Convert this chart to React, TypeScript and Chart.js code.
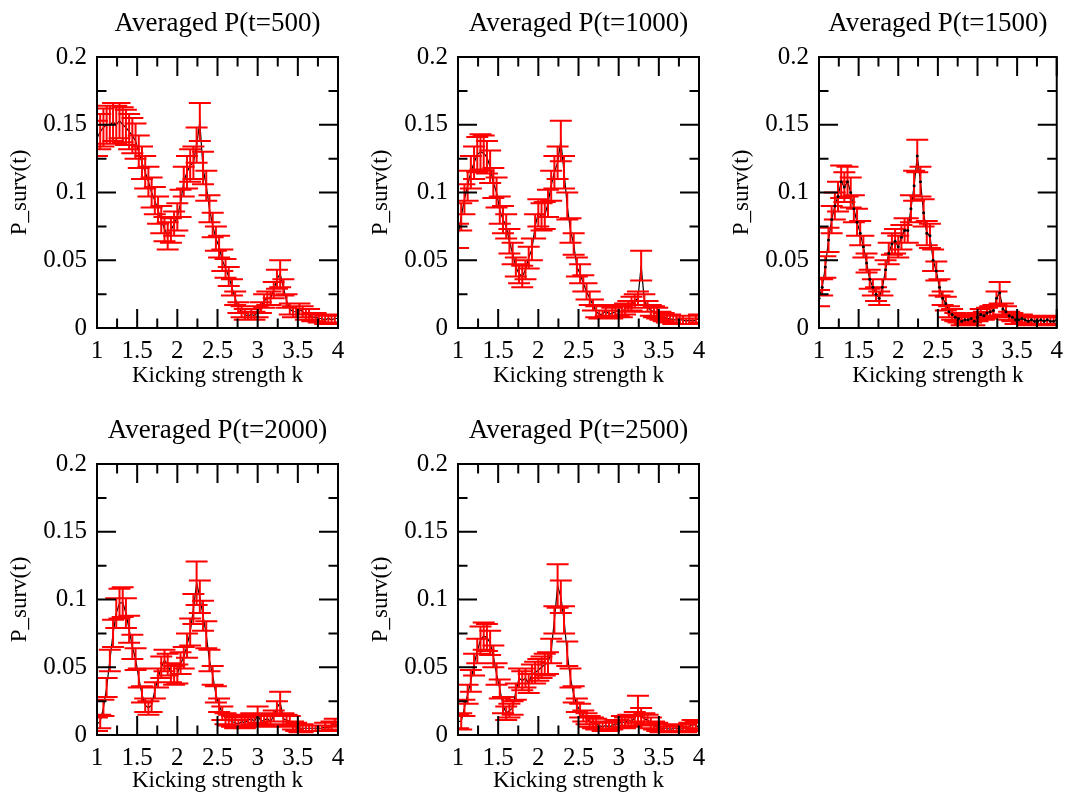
import React, { useEffect, useRef } from "react";
import { Chart, registerables } from "chart.js";

Chart.register(...registerables);

// ---------------- data ----------------
const kValues = [
  1.00, 1.04, 1.08, 1.12, 1.16, 1.20, 1.24, 1.28, 1.32, 1.36,
  1.40, 1.44, 1.48, 1.52, 1.56, 1.60, 1.64, 1.68, 1.72, 1.76,
  1.80, 1.84, 1.88, 1.92, 1.96, 2.00, 2.04, 2.08, 2.12, 2.16,
  2.20, 2.24, 2.28, 2.32, 2.36, 2.40, 2.44, 2.48, 2.52, 2.56,
  2.60, 2.64, 2.68, 2.72, 2.76, 2.80, 2.84, 2.88, 2.92, 2.96,
  3.00, 3.04, 3.08, 3.12, 3.16, 3.20, 3.24, 3.28, 3.32, 3.36,
  3.40, 3.44, 3.48, 3.52, 3.56, 3.60, 3.64, 3.68, 3.72, 3.76,
  3.80, 3.84, 3.88, 3.92, 3.96, 4.00,
];

const survT500 = [
  0.140, 0.145, 0.148, 0.150, 0.150, 0.152, 0.150, 0.153, 0.150, 0.148,
  0.145, 0.142, 0.138, 0.130, 0.122, 0.115, 0.108, 0.100, 0.094, 0.087,
  0.080, 0.073, 0.068, 0.072, 0.077, 0.082, 0.092, 0.108, 0.115, 0.120,
  0.122, 0.135, 0.152, 0.118, 0.105, 0.088, 0.076, 0.066, 0.060, 0.050,
  0.044, 0.038, 0.030, 0.022, 0.015, 0.012, 0.010, 0.009, 0.010, 0.009,
  0.012, 0.015, 0.020, 0.022, 0.022, 0.028, 0.036, 0.040, 0.030, 0.020,
  0.014, 0.012, 0.012, 0.014, 0.012, 0.010, 0.010, 0.008, 0.008, 0.007,
  0.007, 0.006, 0.007, 0.006, 0.007, 0.007,
];
const errT500 = [
  0.013, 0.013, 0.014, 0.014, 0.014, 0.014, 0.014, 0.013, 0.013, 0.013,
  0.013, 0.013, 0.013, 0.012, 0.012, 0.012, 0.011, 0.011, 0.010, 0.010,
  0.010, 0.009, 0.010, 0.009, 0.009, 0.010, 0.010, 0.011, 0.012, 0.012,
  0.012, 0.013, 0.014, 0.012, 0.011, 0.010, 0.009, 0.009, 0.008, 0.008,
  0.007, 0.007, 0.006, 0.005, 0.004, 0.004, 0.004, 0.003, 0.004, 0.003,
  0.004, 0.004, 0.005, 0.005, 0.005, 0.006, 0.007, 0.010, 0.006, 0.005,
  0.004, 0.004, 0.004, 0.004, 0.004, 0.004, 0.004, 0.003, 0.003, 0.003,
  0.003, 0.003, 0.003, 0.003, 0.003, 0.003,
];

const survT1000 = [
  0.068, 0.082, 0.095, 0.105, 0.115, 0.122, 0.128, 0.130, 0.129, 0.126,
  0.119, 0.107, 0.100, 0.087, 0.080, 0.075, 0.064, 0.055, 0.045, 0.040,
  0.038, 0.043, 0.052, 0.058, 0.075, 0.085, 0.082, 0.083, 0.092, 0.105,
  0.115, 0.122, 0.138, 0.115, 0.090, 0.072, 0.062, 0.045, 0.040, 0.033,
  0.027, 0.022, 0.017, 0.012, 0.010, 0.010, 0.013, 0.010, 0.011, 0.012,
  0.013, 0.012, 0.014, 0.016, 0.018, 0.020, 0.022, 0.046, 0.020, 0.016,
  0.013, 0.012, 0.011, 0.009, 0.008, 0.007, 0.007, 0.006, 0.006, 0.006,
  0.006, 0.005, 0.006, 0.005, 0.006, 0.007,
];
const errT1000 = [
  0.009, 0.010, 0.011, 0.011, 0.012, 0.012, 0.013, 0.013, 0.013, 0.012,
  0.012, 0.011, 0.011, 0.010, 0.010, 0.009, 0.009, 0.008, 0.007, 0.007,
  0.008, 0.007, 0.008, 0.008, 0.009, 0.010, 0.010, 0.010, 0.010, 0.011,
  0.012, 0.012, 0.015, 0.012, 0.010, 0.009, 0.008, 0.007, 0.007, 0.006,
  0.006, 0.005, 0.004, 0.004, 0.003, 0.003, 0.004, 0.003, 0.004, 0.004,
  0.004, 0.004, 0.004, 0.004, 0.005, 0.005, 0.005, 0.011, 0.005, 0.004,
  0.004, 0.004, 0.004, 0.003, 0.003, 0.003, 0.003, 0.003, 0.003, 0.003,
  0.003, 0.002, 0.003, 0.002, 0.003, 0.003,
];

const survT1500 = [
  0.022, 0.030, 0.045, 0.065, 0.080, 0.090, 0.097, 0.108, 0.104, 0.108,
  0.100, 0.088, 0.078, 0.070, 0.060, 0.048, 0.036, 0.030, 0.025, 0.022,
  0.030, 0.043, 0.055, 0.062, 0.064, 0.060, 0.067, 0.072, 0.072, 0.088,
  0.105, 0.127, 0.108, 0.085, 0.070, 0.068, 0.050, 0.042, 0.030, 0.022,
  0.018, 0.012, 0.010, 0.008, 0.007, 0.005, 0.006, 0.006, 0.007, 0.005,
  0.008, 0.010, 0.009, 0.011, 0.012, 0.013, 0.022, 0.026, 0.014, 0.012,
  0.009, 0.008, 0.006, 0.006, 0.007, 0.006, 0.005, 0.006, 0.005, 0.005,
  0.006, 0.005, 0.006, 0.005, 0.005, 0.006,
];
const errT1500 = [
  0.006, 0.006, 0.008, 0.009, 0.010, 0.010, 0.011, 0.012, 0.011, 0.011,
  0.011, 0.010, 0.010, 0.009, 0.008, 0.007, 0.007, 0.006, 0.005, 0.005,
  0.006, 0.007, 0.008, 0.008, 0.009, 0.008, 0.009, 0.009, 0.009, 0.010,
  0.011, 0.012, 0.011, 0.010, 0.009, 0.009, 0.008, 0.007, 0.006, 0.005,
  0.005, 0.004, 0.004, 0.003, 0.003, 0.003, 0.003, 0.003, 0.003, 0.003,
  0.003, 0.004, 0.003, 0.004, 0.004, 0.004, 0.005, 0.008, 0.004, 0.004,
  0.003, 0.003, 0.003, 0.003, 0.003, 0.003, 0.003, 0.003, 0.003, 0.003,
  0.003, 0.003, 0.003, 0.003, 0.003, 0.003,
];

const survT2000 = [
  0.008, 0.010, 0.020, 0.035, 0.055, 0.075, 0.090, 0.097, 0.098, 0.090,
  0.078, 0.065, 0.056, 0.042, 0.030, 0.022, 0.020, 0.022, 0.033, 0.042,
  0.050, 0.055, 0.052, 0.046, 0.044, 0.045, 0.053, 0.057, 0.066, 0.076,
  0.093, 0.112, 0.102, 0.088, 0.074, 0.055, 0.044, 0.030, 0.022, 0.016,
  0.012, 0.011, 0.010, 0.009, 0.008, 0.010, 0.009, 0.011, 0.012, 0.010,
  0.015, 0.010, 0.011, 0.012, 0.010, 0.014, 0.020, 0.024, 0.012, 0.011,
  0.010, 0.007, 0.006, 0.005, 0.005, 0.005, 0.005, 0.005, 0.005, 0.005,
  0.005, 0.006, 0.005, 0.007, 0.009, 0.006,
];
const errT2000 = [
  0.005, 0.005, 0.006, 0.007, 0.008, 0.010, 0.011, 0.011, 0.011, 0.011,
  0.010, 0.009, 0.008, 0.007, 0.006, 0.005, 0.005, 0.005, 0.006, 0.007,
  0.008, 0.008, 0.008, 0.007, 0.007, 0.007, 0.008, 0.008, 0.009, 0.010,
  0.011, 0.016, 0.012, 0.011, 0.010, 0.008, 0.007, 0.006, 0.005, 0.005,
  0.004, 0.004, 0.004, 0.004, 0.003, 0.004, 0.004, 0.004, 0.004, 0.004,
  0.006, 0.004, 0.004, 0.004, 0.004, 0.004, 0.005, 0.008, 0.004, 0.004,
  0.004, 0.003, 0.003, 0.003, 0.003, 0.002, 0.002, 0.002, 0.002, 0.002,
  0.002, 0.003, 0.002, 0.003, 0.003, 0.003,
];

const survT2500 = [
  0.010, 0.010, 0.020, 0.030, 0.040, 0.052, 0.062, 0.070, 0.073, 0.072,
  0.068, 0.058, 0.045, 0.034, 0.022, 0.016, 0.018, 0.020, 0.032, 0.042,
  0.040, 0.042, 0.038, 0.045, 0.046, 0.048, 0.050, 0.052, 0.053, 0.062,
  0.085, 0.110, 0.102, 0.085, 0.060, 0.042, 0.030, 0.022, 0.018, 0.014,
  0.012, 0.010, 0.009, 0.008, 0.007, 0.006, 0.007, 0.006, 0.007, 0.008,
  0.008, 0.010, 0.009, 0.011, 0.010, 0.013, 0.018, 0.015, 0.012, 0.011,
  0.009, 0.007, 0.006, 0.005, 0.005, 0.005, 0.004, 0.005, 0.005, 0.004,
  0.005, 0.005, 0.006, 0.008, 0.007, 0.006,
];
const errT2500 = [
  0.005, 0.006, 0.006, 0.007, 0.008, 0.008, 0.009, 0.010, 0.010, 0.010,
  0.009, 0.008, 0.008, 0.007, 0.006, 0.005, 0.005, 0.005, 0.006, 0.007,
  0.007, 0.007, 0.007, 0.007, 0.008, 0.008, 0.008, 0.008, 0.008, 0.009,
  0.010, 0.016, 0.012, 0.010, 0.009, 0.007, 0.006, 0.005, 0.005, 0.004,
  0.004, 0.004, 0.004, 0.004, 0.003, 0.003, 0.003, 0.003, 0.003, 0.003,
  0.003, 0.004, 0.004, 0.004, 0.004, 0.004, 0.011, 0.005, 0.004, 0.004,
  0.004, 0.003, 0.003, 0.003, 0.003, 0.003, 0.002, 0.002, 0.003, 0.002,
  0.003, 0.003, 0.003, 0.003, 0.003, 0.003,
];

const panelTitles = [
  "Averaged P(t=500)",
  "Averaged P(t=1000)",
  "Averaged P(t=1500)",
  "Averaged P(t=2000)",
  "Averaged P(t=2500)",
];
const xAxisTitle = "Kicking strength k";
const yAxisTitle = "P_surv(t)";

const xMajorTicks = [1, 1.5, 2, 2.5, 3, 3.5, 4];
const xMinorTicks = [1.25, 1.75, 2.25, 2.75, 3.25, 3.75];
const yMajorTicks = [0, 0.05, 0.1, 0.15, 0.2];
const yMinorTicks = [0.025, 0.075, 0.125, 0.175];

const seriesValues = [survT500, survT1000, survT1500, survT2000, survT2500];
const seriesErrors = [errT500, errT1000, errT1500, errT2000, errT2500];
const showMarkers = [false, false, true, false, false];

// ---------------- layout / style ----------------
const SERIF = "'Liberation Serif', 'Times New Roman', Times, serif";

type Layout = {
  left: number; top: number; width: number; height: number;
  yAxisW: number; rightPad: number; xAxisH: number;
  yTitlePad: number; xTitlePad: number;
};

const layouts: Layout[] = [
  { left: 0, top: 0, width: 360, height: 400, yAxisW: 97, rightPad: 22, xAxisH: 72, yTitlePad: 6.5, xTitlePad: 10 },
  { left: 360, top: 0, width: 360, height: 400, yAxisW: 98, rightPad: 21, xAxisH: 72, yTitlePad: 7, xTitlePad: 10 },
  { left: 720, top: 0, width: 351, height: 400, yAxisW: 99, rightPad: 11, xAxisH: 72, yTitlePad: 8, xTitlePad: 10 },
  { left: 0, top: 407, width: 360, height: 391, yAxisW: 97, rightPad: 22, xAxisH: 63, yTitlePad: 6.5, xTitlePad: 3 },
  { left: 360, top: 407, width: 360, height: 391, yAxisW: 98, rightPad: 21, xAxisH: 63, yTitlePad: 7, xTitlePad: 3 },
];

const fmt = (v: number) => String(Number(Number(v).toFixed(3)));

function Panel({ idx }: { idx: number }) {
  const ref = useRef<HTMLCanvasElement | null>(null);
  const L = layouts[idx];

  useEffect(() => {
    const canvas = ref.current;
    if (!canvas) return;
    const vals = seriesValues[idx];
    const errs = seriesErrors[idx];

    const drawErrorBars = (chart: any) => {
      const { ctx, chartArea: a, scales } = chart;
      const xs = scales.x;
      const ys = scales.y;
      ctx.save();
      ctx.beginPath();
      ctx.rect(a.left, a.top, a.right - a.left, a.bottom - a.top);
      ctx.clip();
      ctx.strokeStyle = "#ff0000";
      ctx.lineWidth = 2;
      ctx.beginPath();
      for (let i = 0; i < kValues.length; i++) {
        const x = xs.getPixelForValue(kValues[i]);
        const y1 = ys.getPixelForValue(vals[i] + errs[i]);
        const y2 = ys.getPixelForValue(vals[i] - errs[i]);
        ctx.moveTo(x, y1);
        ctx.lineTo(x, y2);
        ctx.moveTo(x - 11, y1);
        ctx.lineTo(x + 11, y1);
        ctx.moveTo(x - 11, y2);
        ctx.lineTo(x + 11, y2);
      }
      ctx.stroke();
      ctx.restore();
    };

    const decor = {
      id: "xmgraceDecor",
      afterDatasetDraw(chart: any, args: any) {
        // error bars go right after the connecting line (dataset 1),
        // before the marker dataset (dataset 0) is drawn on top
        if (args.index === 1) drawErrorBars(chart);
      },
      afterDatasetsDraw(chart: any) {
        const { ctx, chartArea: a, scales } = chart;
        const xs = scales.x;
        const ys = scales.y;
        ctx.save();
        ctx.strokeStyle = "#000000";
        ctx.lineWidth = 2;
        ctx.beginPath();
        const xTick = (v: number, len: number) => {
          const x = xs.getPixelForValue(v);
          ctx.moveTo(x, a.bottom);
          ctx.lineTo(x, a.bottom - len);
          ctx.moveTo(x, a.top);
          ctx.lineTo(x, a.top + len);
        };
        const yTick = (v: number, len: number) => {
          const y = ys.getPixelForValue(v);
          ctx.moveTo(a.left, y);
          ctx.lineTo(a.left + len, y);
          ctx.moveTo(a.right, y);
          ctx.lineTo(a.right - len, y);
        };
        xMajorTicks.forEach((v) => xTick(v, 19));
        xMinorTicks.forEach((v) => xTick(v, 9.5));
        yMajorTicks.forEach((v) => yTick(v, 19));
        yMinorTicks.forEach((v) => yTick(v, 9.5));
        ctx.stroke();
        ctx.strokeRect(a.left, a.top, a.right - a.left, a.bottom - a.top);
        ctx.restore();
      },
    };

    const points = kValues.map((k, i) => ({ x: k, y: vals[i] }));

    const chart = new Chart(canvas, {
      type: "line",
      data: {
        datasets: [
          {
            // markers (drawn last, on top of the error bars)
            data: points,
            showLine: false,
            borderColor: "#000000",
            backgroundColor: "#000000",
            pointRadius: showMarkers[idx] ? 1.5 : 0,
            pointBorderWidth: 0,
          },
          {
            // connecting line
            data: points,
            borderColor: "#000000",
            borderWidth: 1.2,
            pointRadius: 0,
            tension: 0,
          },
        ],
      },
      options: {
        animation: false,
        responsive: false,
        devicePixelRatio: 1,
        layout: { padding: { left: 0, top: 0, right: L.rightPad, bottom: 0 } },
        plugins: {
          legend: { display: false },
          tooltip: { enabled: false },
          title: {
            display: true,
            text: panelTitles[idx],
            fullSize: false,
            color: "#000000",
            font: { family: SERIF, size: 27, weight: "normal", lineHeight: 1.2 },
            padding: { top: 7.8, bottom: 16.8 },
          },
        },
        scales: {
          x: {
            type: "linear",
            min: 1,
            max: 4,
            grid: { display: false, drawTicks: false },
            border: { display: false },
            afterBuildTicks: (s: any) => {
              s.ticks = xMajorTicks.map((value) => ({ value }));
            },
            afterFit: (s: any) => {
              s.height = L.xAxisH;
            },
            ticks: {
              padding: 8,
              color: "#000000",
              maxRotation: 0,
              autoSkip: false,
              font: { family: SERIF, size: 25, lineHeight: 1.2 },
              callback: (v: any) => fmt(v),
            },
            title: {
              display: true,
              text: xAxisTitle,
              color: "#000000",
              font: { family: SERIF, size: 23, lineHeight: 1.2 },
              padding: { top: 0, bottom: L.xTitlePad },
            },
          },
          y: {
            type: "linear",
            min: 0,
            max: 0.2,
            grid: { display: false, drawTicks: false },
            border: { display: false },
            afterBuildTicks: (s: any) => {
              s.ticks = yMajorTicks.map((value) => ({ value }));
            },
            afterFit: (s: any) => {
              s.width = L.yAxisW;
            },
            ticks: {
              padding: 10,
              color: "#000000",
              autoSkip: false,
              font: { family: SERIF, size: 25, lineHeight: 1.2 },
              callback: (v: any) => fmt(v),
            },
            title: {
              display: true,
              text: yAxisTitle,
              color: "#000000",
              font: { family: SERIF, size: 23, lineHeight: 1.2 },
              padding: { top: L.yTitlePad, bottom: 0 },
            },
          },
        },
      },
      plugins: [decor],
    } as any);

    return () => {
      chart.destroy();
    };
  }, [idx]);

  return (
    <canvas
      ref={ref}
      width={L.width}
      height={L.height}
      style={{
        position: "absolute",
        left: L.left,
        top: L.top,
        width: L.width,
        height: L.height,
      }}
    />
  );
}

export default function App() {
  return (
    <div
      style={{
        position: "fixed",
        left: 0,
        top: 0,
        width: 1071,
        height: 798,
        background: "#ffffff",
        overflow: "hidden",
      }}
    >
      {panelTitles.map((_, i) => (
        <Panel key={i} idx={i} />
      ))}
    </div>
  );
}
